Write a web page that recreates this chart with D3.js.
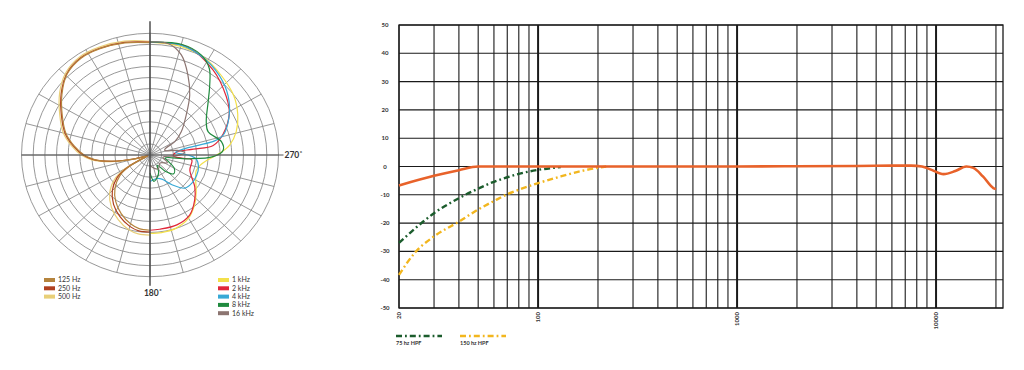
<!DOCTYPE html>
<html>
<head>
<meta charset="utf-8">
<script src="https://cdn.jsdelivr.net/npm/d3@7"></script>
<style>
  body { margin: 0; background: #fff; }
  svg { display: block; }
  text { font-family: Lato, "Open Sans", sans-serif; }
</style>
</head>
<body>
<svg width="1024" height="370"></svg>
<script>
// ---- polar data (dB, angle in chart degrees: 0 top, 90 left, 180 bottom, 270 right)
const lowAngles = [0, 12, 24, 34, 44, 54, 65, 75, 83, 90, 95, 100, 105, 110, 115, 120, 126, 135, 145, 155, 165, 172, 180];
const db125 = [0.4, 0.9, 1.3, 1.4, 0.5, -1.7, -4.3, -6.4, -8.7, -10.9, -13.1, -17.0, -21.9, -24.5, -24.2, -20.0, -17.0, -14.4, -12.2, -10.4, -8.9, -8.2, -8.0];
const db250 = [0.5, 1.0, 1.4, 1.5, 0.6, -1.5, -4.1, -6.2, -8.5, -10.7, -12.9, -16.8, -21.7, -24.5, -24.0, -19.5, -16.3, -13.6, -11.4, -9.7, -8.3, -7.7, -7.6];
const db500 = [0.7, 1.3, 1.7, 1.8, 0.9, -1.1, -3.7, -5.8, -8.1, -10.3, -12.5, -16.4, -21.3, -24.1, -23.6, -18.9, -15.6, -12.8, -10.6, -8.9, -7.5, -7.0, -6.9];

const angles1k = [180, 188, 198, 210, 220, 230, 240, 250, 258, 265, 271.5, 277.5, 286, 296, 307, 320, 332, 345, 360];
const db1k = [-7.3, -7.3, -7.5, -8.5, -10.2, -12.1, -13.7, -14.5, -14.0, -12.6, -10.1, -7.8, -5.8, -4.1, -2.6, -1.4, -0.2, 0.4, 0.5];

const angles2k = [180, 187, 200, 212, 223, 233, 248, 263, 264, 267.5, 277, 278, 279, 287, 299, 309, 325, 342, 360];
const db2k = [-8.0, -8.1, -8.2, -9.0, -11.0, -13.0, -15.8, -16.0, -18.2, -20.0, -19.2, -15.6, -11.3, -8.6, -5.6, -4.0, -1.5, 0.7, 0.5];

const angles4k = [180, 195, 205, 215, 225, 235, 245, 256, 265, 270, 276, 281, 282, 283, 286, 294, 305.5, 317, 331, 345, 360];
const db4k = [-19.0, -19.5, -19.0, -16.8, -14.4, -14.0, -14.0, -14.3, -15.1, -16.8, -19.5, -17.4, -14.5, -10.8, -8.7, -6.7, -4.2, -2.2, -0.4, 0.7, 0.5];

const angles8k = [180, 188, 195, 205, 214, 222, 230, 240, 250, 258, 264, 268.4, 274, 281, 293, 302, 314, 321, 327, 334, 345, 360];
const db8k = [-20.9, -19.0, -19.5, -20.6, -22.2, -20.0, -18.4, -19.0, -20.9, -21.7, -16.8, -11.5, -9.3, -9.4, -11.5, -10.8, -7.7, -4.7, -1.7, 0.1, 0.9, 0.5];

const angles16k = [180, 190, 210, 230, 245, 260, 268, 274, 280, 288, 294, 299.6, 308.1, 319.4, 327.9, 335.8, 343.5, 351.3, 360];
const db16k = [-22.8, -22.2, -21.4, -22.2, -20.9, -22.2, -19.5, -17.6, -19.0, -21.7, -21.4, -18.9, -16.5, -13.1, -9.0, -5.2, -1.4, 0.5, 0.5];

const lowLegend = ["125 Hz", "250 Hz", "500 Hz"];
const highLegend = ["1 kHz", "2 kHz", "4 kHz", "8 kHz", "16 kHz"];

// ---- frequency response data
const respFreq = [20, 30, 40, 50, 70, 100, 200, 500, 1000, 2000, 4000, 6000, 7500, 8500, 9500, 10900, 12500, 14200, 15400, 17200, 19400, 20000];
const respDb = [-6.7, -3.3, -1.3, 0, 0, 0, 0, 0, 0, 0.1, 0.2, 0.3, 0.3, 0, -1.2, -2.7, -1.6, 0, -0.5, -3.5, -7.6, -8.0];
const hpf75Freq = [20, 24, 30, 40, 50, 60, 70, 80, 100, 130];
const hpf75Db = [-27, -22, -16.5, -11.2, -7.8, -5.4, -3.8, -2.6, -1.2, -0.2];
const hpf150Freq = [20, 24, 30, 40, 50, 60, 70, 80, 100, 130, 175, 220];
const hpf150Db = [-38.3, -30.5, -24.7, -19.5, -15.2, -12.2, -9.8, -8.2, -5.9, -3.5, -1.2, 0];
const freqLabels = [20, 100, 1000, 10000];

const svg = d3.select("svg");

// ================= polar plot =================
const cx = 150, cy = 155, R = 128.5, squash = 0.947;
const rScale = d3.scaleLinear().domain([-25, 2.5]).range([0, R]).clamp(true);
const rad = a => a * Math.PI / 180;

const polar = svg.append("g")
    .attr("transform", `translate(${cx},${cy}) scale(1,${squash})`);

// rings
polar.selectAll(".ring")
    .data(d3.range(-22.5, 2.6, 2.5))
    .join("circle")
    .attr("r", d => rScale(d))
    .attr("fill", "none")
    .attr("stroke", "#8c8c8c")
    .attr("stroke-width", 0.9)
    .attr("vector-effect", "non-scaling-stroke");

// spokes every 15 degrees
polar.selectAll(".spoke")
    .data(d3.range(0, 360, 15))
    .join("line")
    .attr("x1", 0).attr("y1", 0)
    .attr("x2", d => R * Math.sin(rad(d)))
    .attr("y2", d => -R * Math.cos(rad(d)))
    .attr("stroke", "#8c8c8c")
    .attr("stroke-width", 0.9)
    .attr("vector-effect", "non-scaling-stroke");

// main axes
svg.append("line")
    .attr("x1", cx).attr("x2", cx)
    .attr("y1", cy - R * squash - 12).attr("y2", cy + R * squash + 9)
    .attr("stroke", "#444").attr("stroke-width", 1.4);
svg.append("line")
    .attr("x1", cx - R).attr("x2", cx + R + 5)
    .attr("y1", cy).attr("y2", cy)
    .attr("stroke", "#555").attr("stroke-width", 1.2);

const radial = d3.lineRadial()
    .angle(d => -rad(d.a))
    .radius(d => rScale(d.db))
    .curve(d3.curveCatmullRom.alpha(0.5));

const polarSeries = [
    { name: "500 Hz", color: "#e8cf78", angles: lowAngles, db: db500 },
    { name: "250 Hz", color: "#b0401f", angles: lowAngles, db: db250 },
    { name: "125 Hz", color: "#b5843d", angles: lowAngles, db: db125 },
    { name: "1 kHz", color: "#f3e04a", angles: angles1k, db: db1k },
    { name: "2 kHz", color: "#e0283a", angles: angles2k, db: db2k },
    { name: "4 kHz", color: "#38a9d6", angles: angles4k, db: db4k },
    { name: "8 kHz", color: "#1f8a3e", angles: angles8k, db: db8k },
    { name: "16 kHz", color: "#8c7571", angles: angles16k, db: db16k }
];
const colorOf = name => polarSeries.find(s => s.name === name).color;

polar.selectAll(".pattern")
    .data(polarSeries)
    .join("path")
    .attr("d", s => radial(s.angles.map((a, i) => ({ a, db: s.db[i] }))))
    .attr("fill", "none")
    .attr("stroke", s => s.color)
    .attr("stroke-width", 1.2)
    .attr("vector-effect", "non-scaling-stroke");

// angle labels
svg.append("text")
    .attr("x", cx + R + 6).attr("y", cy + 3)
    .style("font-size", "8.5px").style("font-weight", "bold").attr("fill", "#333")
    .text("270˚");
svg.append("text")
    .attr("x", cx + 3).attr("y", cy + R * squash + 19)
    .attr("text-anchor", "middle")
    .style("font-size", "8.5px").style("font-weight", "bold").attr("fill", "#333")
    .text("180˚");

// legends
function legendBlock(names, x0, y0) {
    const g = svg.append("g").attr("transform", `translate(${x0},${y0})`);
    names.forEach((n, i) => {
        g.append("rect")
            .attr("x", 0).attr("y", i * 8.3 - 2)
            .attr("width", 11).attr("height", 4)
            .attr("fill", colorOf(n));
        g.append("text")
            .attr("x", 14).attr("y", i * 8.3 + 2.3)
            .style("font-size", "7px").attr("fill", "#333")
            .text(n);
    });
}
legendBlock(lowLegend, 44, 280);
legendBlock(highLegend, 218, 280);

// ================= frequency response =================
const fx = d3.scaleLog().domain([20, 21700]).range([399, 1003]);
const fy = d3.scaleLinear().domain([-50, 50]).range([308, 25]);
const isDecade = d => Math.abs(Math.log10(d) - Math.round(Math.log10(d))) < 1e-6;

const fr = svg.append("g");

fr.selectAll(".vgrid")
    .data(fx.ticks())
    .join("line")
    .attr("x1", d => fx(d)).attr("x2", d => fx(d))
    .attr("y1", fy(50)).attr("y2", fy(-50))
    .attr("stroke", "#1a1a1a")
    .attr("stroke-width", d => isDecade(d) ? 2 : 1.1);

fr.selectAll(".hgrid")
    .data(fy.ticks(10))
    .join("line")
    .attr("x1", fx(20)).attr("x2", fx(21700))
    .attr("y1", d => fy(d)).attr("y2", d => fy(d))
    .attr("stroke", "#1a1a1a")
    .attr("stroke-width", 1.1);

fr.append("rect")
    .attr("x", fx(20)).attr("y", fy(50))
    .attr("width", fx(21700) - fx(20)).attr("height", fy(-50) - fy(50))
    .attr("fill", "none").attr("stroke", "#1a1a1a").attr("stroke-width", 1.3);

fr.selectAll(".ylab")
    .data(fy.ticks(10))
    .join("text")
    .attr("x", 385).attr("y", d => fy(d) + 2)
    .attr("text-anchor", "middle")
    .style("font-size", "6px").style("font-weight", "bold").attr("fill", "#333")
    .text(d => d);

fr.selectAll(".xlab")
    .data(freqLabels)
    .join("text")
    .attr("transform", d => `translate(${fx(d) + 2},312) rotate(-90)`)
    .attr("text-anchor", "end")
    .style("font-size", "6px").style("font-weight", "bold").attr("fill", "#333")
    .text(d => d);

const fline = d3.line()
    .x(d => fx(d.f))
    .y(d => fy(d.db))
    .curve(d3.curveMonotoneX);
const pts = (fs, ds) => fs.map((f, i) => ({ f, db: ds[i] }));

fr.append("path")
    .attr("d", fline(pts(hpf150Freq, hpf150Db)))
    .attr("fill", "none").attr("stroke", "#f2b61e").attr("stroke-width", 2.4)
    .attr("stroke-dasharray", "6,3,1.8,3");
fr.append("path")
    .attr("d", fline(pts(hpf75Freq, hpf75Db)))
    .attr("fill", "none").attr("stroke", "#1b5c2c").attr("stroke-width", 2.4)
    .attr("stroke-dasharray", "6,3,1.8,3");
fr.append("path")
    .attr("d", fline(pts(respFreq, respDb)))
    .attr("fill", "none").attr("stroke", "#e8622a").attr("stroke-width", 2.6);

// HPF legend
const hpfLegend = [
    { label: "75 hz HPF", color: "#1b5c2c", x: 396 },
    { label: "150 hz HPF", color: "#f2b61e", x: 460 }
];
hpfLegend.forEach(d => {
    svg.append("line")
        .attr("x1", d.x).attr("x2", d.x + 46)
        .attr("y1", 336).attr("y2", 336)
        .attr("stroke", d.color).attr("stroke-width", 2.4)
        .attr("stroke-dasharray", "6,3,1.8,3");
    svg.append("text")
        .attr("x", d.x).attr("y", 345)
        .style("font-size", "5.5px").style("font-weight", "bold").attr("fill", "#333")
        .text(d.label);
});
</script>
</body>
</html>
